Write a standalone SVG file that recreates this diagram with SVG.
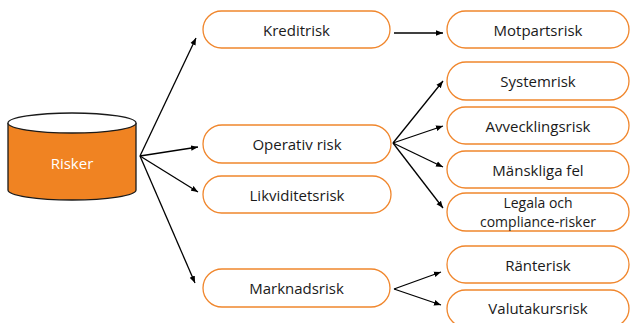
<svg xmlns="http://www.w3.org/2000/svg" width="631" height="323" viewBox="0 0 631 323">
<style>
.box{fill:#fff;stroke:#F0862C;stroke-width:1.3}
.t{font-family:"Open Sans","Noto Sans",sans-serif;font-size:15px;fill:#1a1a1a;text-anchor:middle;dominant-baseline:central}
.c{stroke:#000;stroke-width:1.3;fill:none;marker-end:url(#ah)}
</style>
<defs>
<marker id="ah" viewBox="0 0 10 10" refX="10" refY="5" markerWidth="7" markerHeight="7" markerUnits="userSpaceOnUse" orient="auto">
<path d="M0,1 L10,5 L0,9 z" fill="#000"/>
</marker>
</defs>
<g id="connectors">
<line class="c" x1="140" y1="156" x2="196" y2="38"/>
<line class="c" x1="140" y1="156" x2="198" y2="147"/>
<line class="c" x1="140" y1="156" x2="198" y2="192"/>
<line class="c" x1="140" y1="156" x2="195" y2="283"/>
<line class="c" x1="394" y1="33" x2="443" y2="33"/>
<line class="c" x1="393" y1="143" x2="443" y2="81"/>
<line class="c" x1="393" y1="143" x2="443" y2="126"/>
<line class="c" x1="393" y1="143" x2="443" y2="167"/>
<line class="c" x1="393" y1="143" x2="443" y2="208"/>
<line class="c" x1="394" y1="289" x2="441" y2="272"/>
<line class="c" x1="394" y1="289" x2="441" y2="305"/>
</g>
<g id="risker">
<path d="M8,123 L8,190 A64,10 0 0 0 136,190 L136,123" fill="#F08322" stroke="#1a1a1a" stroke-width="1.3"/>
<ellipse cx="72" cy="123" rx="64" ry="10" fill="#fff" stroke="#1a1a1a" stroke-width="1.3"/>
<text class="t" x="72" y="163" style="fill:#fff;font-size:15px">Risker</text>
</g>
<g id="kreditrisk"><rect class="box" x="203" y="11" width="187" height="37" rx="18.5"/><text class="t" x="296.5" y="29.5">Kreditrisk</text></g>
<g id="operativ"><rect class="box" x="203" y="125" width="188" height="38" rx="19"/><text class="t" x="297" y="144">Operativ risk</text></g>
<g id="likviditet"><rect class="box" x="203" y="176" width="188" height="37" rx="18.5"/><text class="t" x="297" y="195">Likviditetsrisk</text></g>
<g id="marknad"><rect class="box" x="203" y="269" width="187" height="38" rx="19"/><text class="t" x="296.5" y="288">Marknadsrisk</text></g>
<g id="motpart"><rect class="box" x="447" y="11" width="182" height="37" rx="18.5"/><text class="t" x="538" y="29.5">Motpartsrisk</text></g>
<g id="system"><rect class="box" x="447" y="62" width="182" height="38" rx="19"/><text class="t" x="538" y="81">Systemrisk</text></g>
<g id="avveckling"><rect class="box" x="447" y="107" width="182" height="37" rx="18.5"/><text class="t" x="538" y="125.5">Avvecklingsrisk</text></g>
<g id="manskliga"><rect class="box" x="447" y="151" width="182" height="37" rx="18.5"/><text class="t" x="538" y="169.5">Mänskliga fel</text></g>
<g id="legala"><rect class="box" x="447" y="193" width="182" height="38" rx="19"/><text class="t" x="538" y="202" style="font-size:14px">Legala och</text><text class="t" x="538" y="221" style="font-size:14px">compliance-risker</text></g>
<g id="ranterisk"><rect class="box" x="447" y="246" width="182" height="37" rx="18.5"/><text class="t" x="538" y="264.5">Ränterisk</text></g>
<g id="valuta"><rect class="box" x="447" y="290" width="182" height="37" rx="18.5"/><text class="t" x="538" y="308">Valutakursrisk</text></g>
</svg>
